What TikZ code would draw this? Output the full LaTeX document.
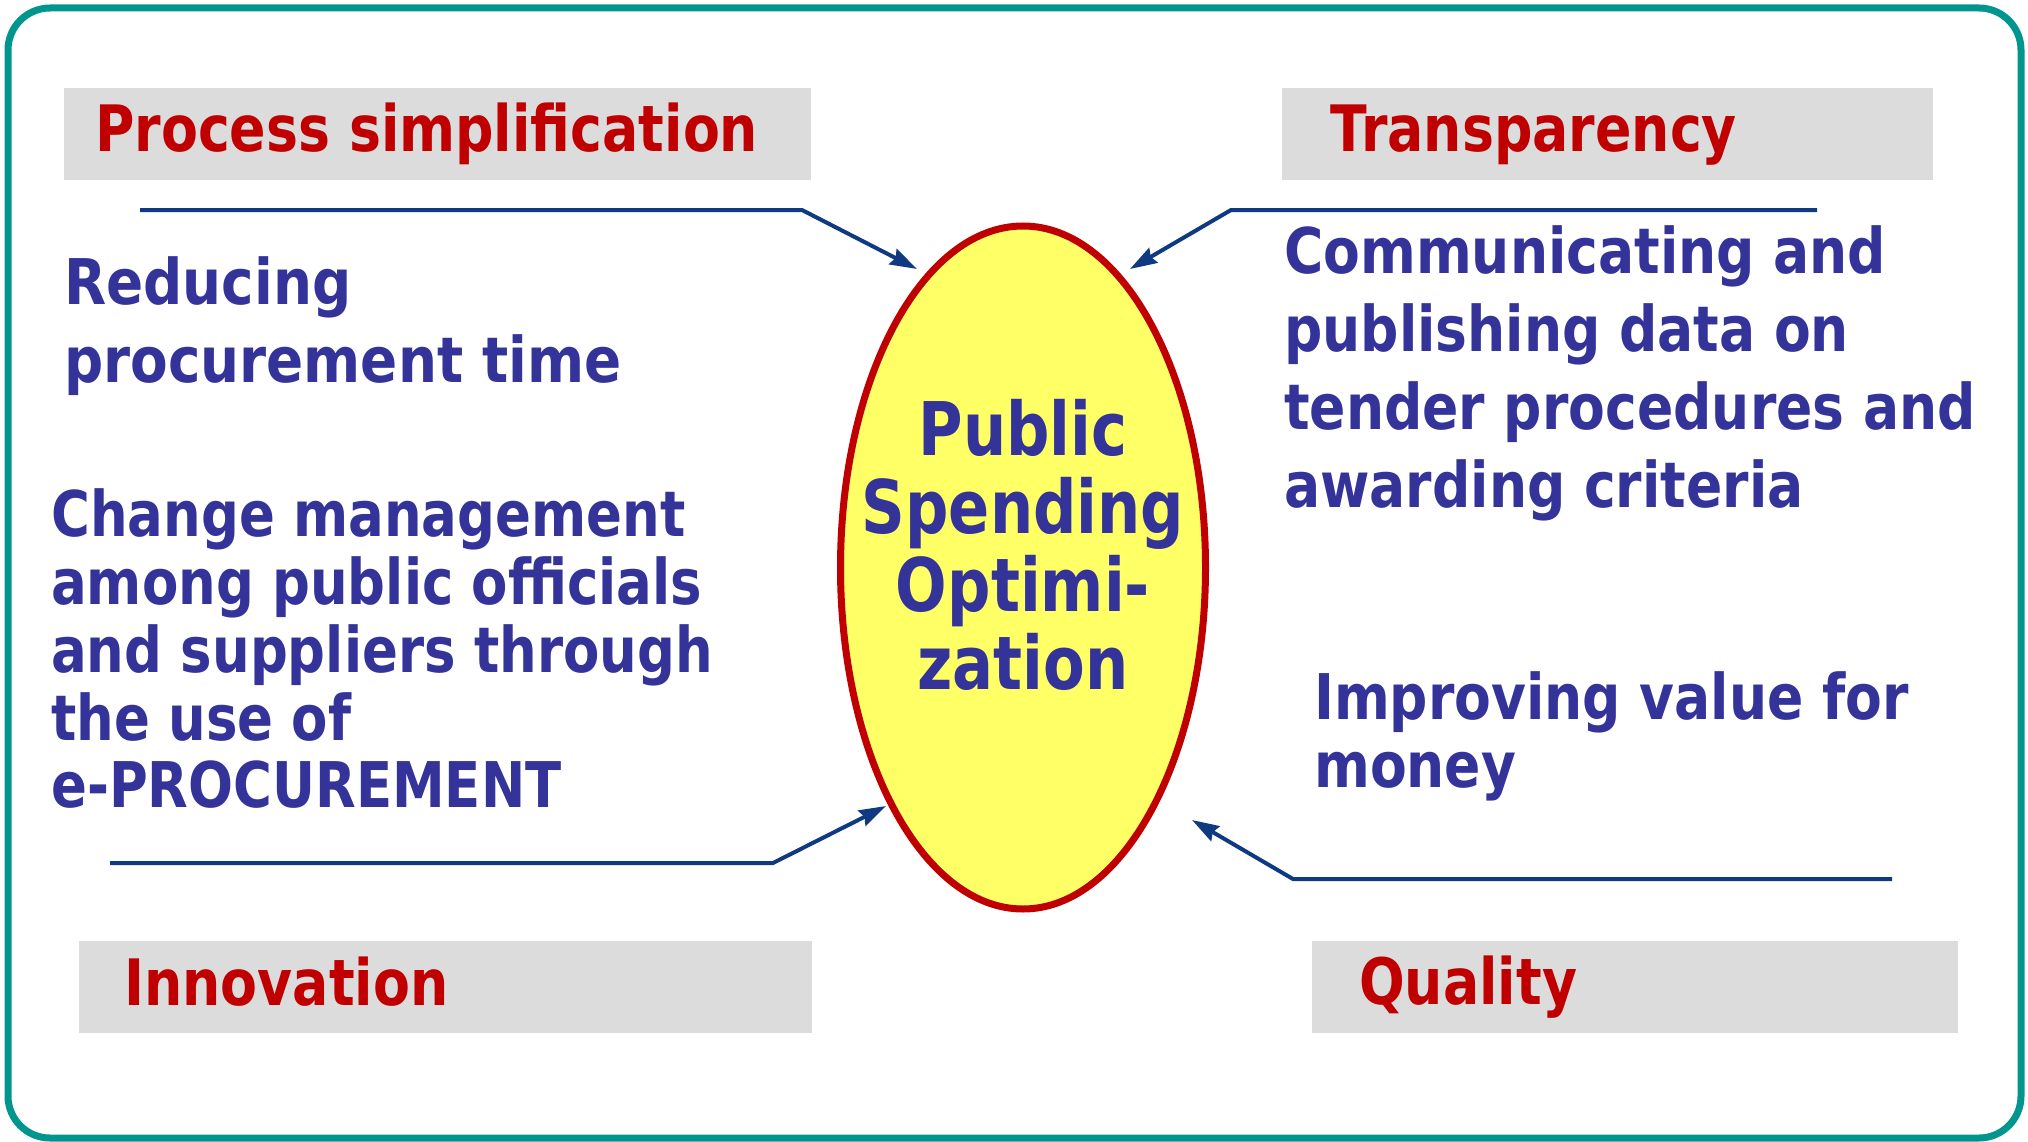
\documentclass[tikz,border=0pt]{standalone}
\usepackage{fontspec}
\usetikzlibrary{shapes.geometric,arrows.meta}
\newfontfamily\sidefont{DejaVu Sans Bold}[FakeStretch=0.85]
\newfontfamily\sidefontn{DejaVu Sans Bold}[FakeStretch=0.84]
\newfontfamily\sidefontw{DejaVu Sans Bold}[FakeStretch=0.87]
\newfontfamily\titfont{DejaVu Sans Bold}[FakeStretch=0.84]
\newfontfamily\midfont{DejaVu Sans Bold}[FakeStretch=0.82]
\definecolor{bordc}{RGB}{0,150,143}
\definecolor{titc}{RGB}{192,0,0}
\definecolor{bodyc}{RGB}{51,51,153}
\definecolor{arrc}{RGB}{15,58,130}
\definecolor{ellfill}{RGB}{255,255,102}
\definecolor{elline}{RGB}{192,0,0}
\definecolor{boxc}{RGB}{220,220,220}
\begin{document}
\begin{tikzpicture}[x=1pt,y=-1pt,
  titlebox/.style={fill=boxc, draw=none, anchor=north west, inner sep=0pt},
  titletext/.style={anchor=base west, inner sep=0pt, text=titc, font=\titfont\fontsize{64pt}{78pt}\selectfont},
  bodytext/.style={anchor=base west, inner sep=0pt, text=bodyc, align=left},
  conn/.style={draw=arrc, line width=4pt, -{Stealth[length=27pt,width=17pt,inset=3pt]}}]
\useasboundingbox (0,0) rectangle (2028,1142);
\draw[bordc, line width=7pt, rounded corners=42pt] (8,8) rectangle (2021,1138);

% title boxes
\node[titlebox, minimum width=747pt, minimum height=92pt] (b1) at (64,88) {};
\node[titlebox, minimum width=651pt, minimum height=92pt] (b2) at (1282,88) {};
\node[titlebox, minimum width=733pt, minimum height=92pt] (b3) at (79,941) {};
\node[titlebox, minimum width=646pt, minimum height=92pt] (b4) at (1312,941) {};

\node[titletext] (t1) at (95,152) {Process simplification};
\node[titletext] (t2) at (1330,152) {Transparency};
\node[titletext] (t3) at (124,1005) {Innovation};
\node[titletext] (t4) at (1359,1004) {Quality};

% body texts (base anchor = baseline of last line)
\node[bodytext, font=\sidefontw\fontsize{63pt}{78pt}\selectfont] (p1) at (64,382.4)
  {Reducing\\procurement time};
\node[bodytext, font=\sidefontn\fontsize{63pt}{67.7pt}\selectfont] (p2) at (51,807.7)
  {Change management\\among public officials\\and suppliers through\\the use of\\e-PROCUREMENT};
\node[bodytext, font=\sidefont\fontsize{63pt}{78pt}\selectfont] (p3) at (1284,507)
  {Communicating and\\publishing data on\\tender procedures and\\awarding criteria};
\node[bodytext, font=\sidefont\fontsize{63pt}{67.5pt}\selectfont] (p4) at (1314,787)
  {Improving value for\\money};

% central ellipse
\node[ellipse, draw=elline, fill=ellfill, line width=7pt, minimum width=365pt, minimum height=683pt, inner sep=0pt] (c) at (1023,567.5) {};
\node[anchor=base, inner sep=0pt, align=center, text=bodyc, font=\midfont\fontsize{74pt}{78pt}\selectfont] (ct) at (1023,689.2)
  {Public\\Spending\\Optimi-\\zation};

% connectors
\coordinate (s1) at (140,210); \coordinate (k1) at (802,210); \coordinate (e1) at (917,269);
\coordinate (s2) at (1817,210); \coordinate (k2) at (1231,210); \coordinate (e2) at (1130,269);
\coordinate (s3) at (110,863); \coordinate (k3) at (773,863); \coordinate (e3) at (886,806);
\coordinate (s4) at (1892,879); \coordinate (k4) at (1293,879); \coordinate (e4) at (1192,820);
\draw[conn] (s1) -- (k1) -- (e1);
\draw[conn] (s2) -- (k2) -- (e2);
\draw[conn] (s3) -- (k3) -- (e3);
\draw[conn] (s4) -- (k4) -- (e4);
\end{tikzpicture}
\end{document}
